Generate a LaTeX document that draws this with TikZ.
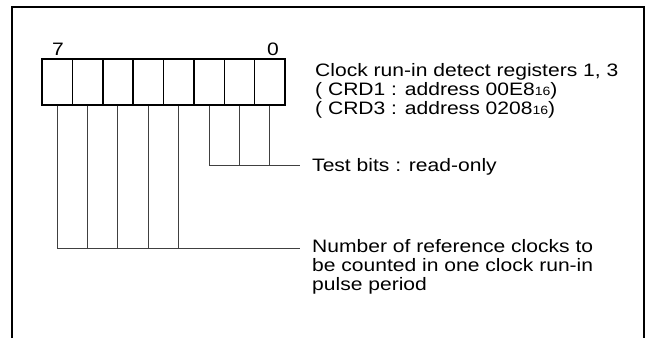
\documentclass[tikz,border=0pt]{standalone}
\usepackage{fontspec}
\setmainfont{Liberation Sans}[FakeStretch=1.17]
\begin{document}
\begin{tikzpicture}[x=1pt,y=1pt,
    cell/.style={draw,line width=1.5pt,minimum width=30.375pt,minimum height=46pt,inner sep=0pt},
    lead/.style={draw=black!75,line width=0.9pt},
    txt/.style={anchor=west,inner sep=0pt,align=left,font=\fontsize{18}{19}\selectfont}]
                % frame
                \useasboundingbox (0,0) rectangle (649,338);
                \draw[line width=2.6pt] (12,0)--(12,331)--(644,331)--(644,0);

                % register cells, bit 7 on the left
                \foreach \i in {0,...,7}
                    \node[cell] (b\i) at ({42+30.375*(7.5-\i)},256) {};

                \node[font=\fontsize{18}{19}\selectfont] (l7) at (58,289) {7};
                \node[font=\fontsize{18}{19}\selectfont] (l0) at (273,289) {0};

                \node[txt] (title) at (315,247) {Clock run-in detect registers 1, 3\\
                    ( CRD1 : address 00E8{\fontsize{12}{12}\selectfont 16})\\
                    ( CRD3 : address 0208{\fontsize{12}{12}\selectfont 16})};

                % test bits
                \coordinate (tb) at (300,173);
                \draw[lead] (b2.south) |- (tb);
                \foreach \i in {0,1}
                    \draw[lead] (b\i.south) -- (b\i.south |- tb);
                \node[txt] (test) at (312,171) {Test bits : read-only};

                % count bits
                \coordinate (nb) at (300,90);
                \draw[lead] (b7.south) |- (nb);
                \foreach \i in {3,...,6}
                    \draw[lead] (b\i.south) -- (b\i.south |- nb);
                \node[txt] (count) at (312,71) {Number of reference clocks to\\
                    be counted in one clock run-in\\pulse period};

\end{tikzpicture}
\end{document}
